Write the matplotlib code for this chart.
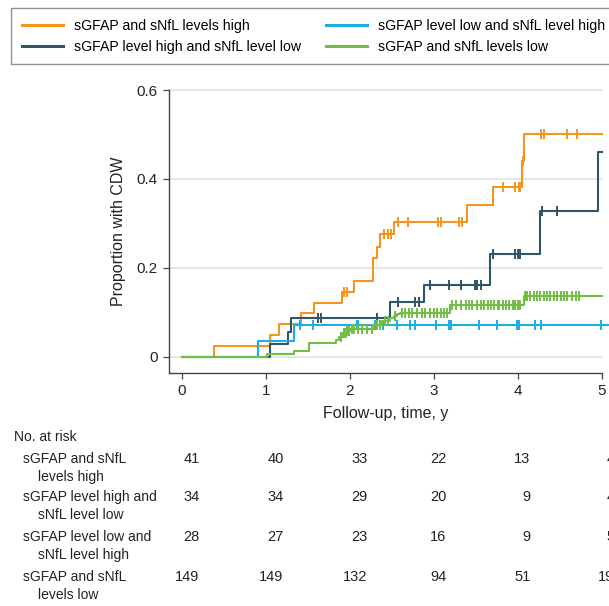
import numpy as np
import matplotlib
matplotlib.use("Agg")
import matplotlib.pyplot as plt
from matplotlib.lines import Line2D
import matplotlib.transforms as mtransforms

plt.rcParams['font.family'] = ['Liberation Sans', 'DejaVu Sans']

# ---------------- data ----------------
series_names = ["sGFAP and sNfL levels high",
                "sGFAP level high and sNfL level low",
                "sGFAP level low and sNfL level high",
                "sGFAP and sNfL levels low"]
colors = ["#F7941D", "#2F5566", "#1AADE8", "#72BE45"]

# orange: sGFAP and sNfL levels high
hh_t = [0, 0.385, 1.05, 1.16, 1.42, 1.575, 1.905, 2.05, 2.27, 2.32, 2.36, 2.52, 3.40, 3.71, 4.055, 4.075, 5.0]
hh_y = [0, 0.024, 0.049, 0.073, 0.098, 0.122, 0.147, 0.171, 0.222, 0.248, 0.276, 0.304, 0.342, 0.381, 0.441, 0.500, 0.500]
hh_c = [1.93, 1.97, 2.41, 2.46, 2.49, 2.57, 2.69, 3.05, 3.09, 3.30, 3.33, 3.83, 3.97, 4.01, 4.03, 4.06, 4.28, 4.31, 4.59, 4.71]

# dark: sGFAP level high and sNfL level low
hl_t = [0, 1.05, 1.26, 1.30, 2.48, 2.88, 3.675, 4.265, 4.96, 5.0]
hl_y = [0, 0.029, 0.057, 0.088, 0.123, 0.162, 0.232, 0.328, 0.461, 0.461]
hl_c = [1.62, 1.66, 2.32, 2.57, 2.78, 2.82, 2.95, 3.18, 3.32, 3.49, 3.52, 3.56, 3.71, 3.97, 4.00, 4.03, 4.29, 4.47]

# blue: sGFAP level low and sNfL level high
lh_t = [0, 0.91, 1.33, 5.1]
lh_y = [0, 0.036, 0.071, 0.071]
lh_c = [1.41, 1.56, 2.08, 2.10, 2.30, 2.39, 2.56, 2.72, 2.78, 3.03, 3.18, 3.20, 3.54, 3.75, 3.99, 4.01, 4.21, 4.28, 4.99]

# green: sGFAP and sNfL levels low
ll_t = [0, 1.01, 1.34, 1.51, 1.83, 1.87, 1.92, 1.96, 2.00, 2.29, 2.38, 2.48, 2.52, 2.56, 2.60, 3.19, 4.07, 5.0]
ll_y = [0, 0.0067, 0.0134, 0.032, 0.039, 0.046, 0.053, 0.058, 0.063, 0.072, 0.080, 0.087, 0.092, 0.096, 0.099, 0.117, 0.138, 0.138]
ll_c = [1.90, 1.93, 1.95, 1.97, 1.99, 2.02, 2.05, 2.10, 2.15, 2.20, 2.26, 2.32, 2.36, 2.42, 2.46,
        2.54, 2.62, 2.66, 2.70, 2.74, 2.80, 2.86, 2.90, 2.96, 3.00, 3.04, 3.08, 3.12, 3.16,
        3.22, 3.26, 3.32, 3.38, 3.42, 3.46, 3.52, 3.56, 3.60, 3.64, 3.68, 3.72, 3.76,
        3.78, 3.82, 3.86, 3.90, 3.94, 3.97, 4.00, 4.03,
        4.09, 4.11, 4.15, 4.19, 4.23, 4.27, 4.31, 4.35, 4.39, 4.43, 4.47, 4.51, 4.55, 4.59, 4.65, 4.69, 4.73]

times = [hh_t, hl_t, lh_t, ll_t]
vals = [hh_y, hl_y, lh_y, ll_y]
cens = [hh_c, hl_c, lh_c, ll_c]

x_ticks = [0, 1, 2, 3, 4, 5]
y_ticks = [0, 0.2, 0.4, 0.6]
y_tick_labels = ["0", "0.2", "0.4", "0.6"]

risk_labels = [("sGFAP and sNfL", "levels high"),
               ("sGFAP level high and", "sNfL level low"),
               ("sGFAP level low and", "sNfL level high"),
               ("sGFAP and sNfL", "levels low")]
risk_hh = [41, 40, 33, 22, 13, 4]
risk_hl = [34, 34, 29, 20, 9, 4]
risk_lh = [28, 27, 23, 16, 9, 5]
risk_ll = [149, 149, 132, 94, 51, 19]
risk_rows = [risk_hh, risk_hl, risk_lh, risk_ll]

# ---------------- figure ----------------
W, H = 609, 606
fig = plt.figure(figsize=(W / 100, H / 100), dpi=100)
ax_left, ax_right, ax_top, ax_bot = 169, 601.7, 90, 373
ax = fig.add_axes([ax_left / W, 1 - ax_bot / H, (ax_right - ax_left) / W, (ax_bot - ax_top) / H])
ax.set_xlim(-0.155, 5.0)
ax.set_ylim(-0.036, 0.6)

for yv in y_ticks:
    ax.axhline(yv, color="#e2e2e2", lw=1.2, zorder=0, clip_on=False)

lw = 1.5
order = [3, 2, 1, 0]
for i in order:
    t = np.array(times[i]); y = np.array(vals[i])
    ax.step(t, y, where="post", color=colors[i], lw=lw, zorder=2 + i, clip_on=False)
    c = np.array(cens[i])
    idx = np.searchsorted(t, c, side="right") - 1
    ax.plot(c, y[idx], ls="none", marker="|", ms=7.5, mew=1.4, color=colors[i], zorder=2 + i)

for s in ["top", "right"]:
    ax.spines[s].set_visible(False)
for s in ["left", "bottom"]:
    ax.spines[s].set_color("#444444")
    ax.spines[s].set_linewidth(1.0)
ax.set_xticks(x_ticks)
ax.set_xticklabels([str(v) for v in x_ticks])
ax.set_yticks(y_ticks)
ax.set_yticklabels(y_tick_labels)
ax.tick_params(direction="out", length=4.5, width=0.9, color="#444444", labelsize=11,
               labelcolor="#222222", pad=3.5)
ax.set_xlabel("Follow-up, time, y", fontsize=11.5, color="#222222", labelpad=6)
ax.set_ylabel("Proportion with CDW", fontsize=11.5, color="#222222", labelpad=8)

# legend
handles = [Line2D([], [], color=c, lw=2.2) for c in colors]
leg = fig.legend(handles, series_names, loc="upper left", ncol=2,
                 bbox_to_anchor=(11 / W, 1 - 8 / H), bbox_transform=fig.transFigure,
                 fontsize=10.2, frameon=True, fancybox=False, edgecolor="#777777",
                 handlelength=2.9, handletextpad=0.8, columnspacing=1.75,
                 labelspacing=0.5, borderpad=0.75, borderaxespad=0)
leg.get_frame().set_linewidth(1.0)

# risk table
ytrans = mtransforms.blended_transform_factory(ax.transData, fig.transFigure)
fs_lab = 10
fs_num = 10.5
fig.text(14 / W, 1 - 437 / H, "No. at risk", fontsize=fs_lab, va="center", ha="left", color="#222222")
row_y = [459, 497, 537, 577]
col_off = [0.21, 0.21, 0.21, 0.15, 0.15, 0.15]
for r, (lab, rowy) in enumerate(zip(risk_labels, row_y)):
    fig.text(23 / W, 1 - rowy / H, lab[0], fontsize=fs_lab, va="center", ha="left", color="#222222")
    fig.text(38 / W, 1 - (rowy + 18) / H, lab[1], fontsize=fs_lab, va="center", ha="left", color="#222222")
    for k, (xv, n) in enumerate(zip(x_ticks, risk_rows[r])):
        ax.text(xv + col_off[k], 1 - rowy / H, str(n), transform=ytrans, fontsize=fs_num,
                va="center", ha="right", color="#222222", clip_on=False)

fig.savefig("out.png", dpi=100)
